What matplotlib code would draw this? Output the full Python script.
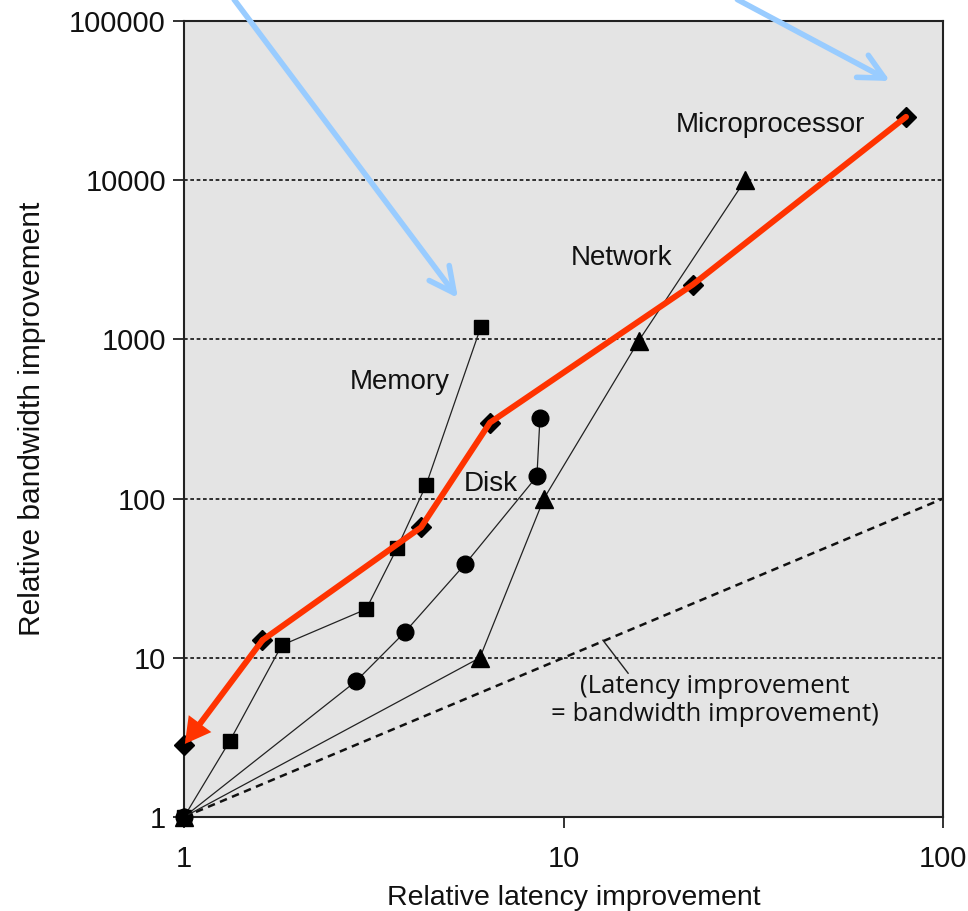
import matplotlib
matplotlib.use("Agg")
import matplotlib.pyplot as plt
from matplotlib.patches import FancyArrowPatch

# Relative improvement milestones (latency, bandwidth) for each technology
micro_latency = [1.0, 1.61, 4.21, 6.40, 21.9, 79.9]
micro_bandwidth = [2.83, 12.9, 65.9, 300, 2207, 25000]

memory_latency = [1.0, 1.32, 1.81, 3.02, 3.64, 4.34, 6.06]
memory_bandwidth = [1.0, 3.0, 12.0, 20.2, 48.7, 121, 1203]

disk_latency = [1.0, 2.84, 3.82, 5.5, 8.51, 8.67]
disk_bandwidth = [1.0, 7.13, 14.5, 38.7, 138, 323]

network_latency = [1.0, 6.02, 8.88, 15.8, 30.1]
network_bandwidth = [1.0, 10.0, 100, 983, 10000]

x_ticks = [1, 10, 100]
x_tick_labels = ["1", "10", "100"]
y_ticks = [1, 10, 100, 1000, 10000, 100000]
y_tick_labels = ["1", "10", "100", "1000", "10000", "100000"]
grid_levels = [10, 100, 1000, 10000]

W, H = 968, 911
fig = plt.figure(figsize=(W / 100, H / 100), dpi=100)
left, right, top, bottom = 184, 943, 21, 817
ax = fig.add_axes([left / W, (H - bottom) / H, (right - left) / W, (bottom - top) / H])

ax.set_xscale("log")
ax.set_yscale("log")
ax.set_xlim(1, 100)
ax.set_ylim(1, 100000)
ax.set_facecolor("#e4e4e4")

font = "Liberation Sans"

for s in ax.spines.values():
    s.set_linewidth(1.5)
    s.set_color("#222222")

ax.set_xticks(x_ticks)
ax.set_xticklabels(x_tick_labels)
ax.set_yticks(y_ticks)
ax.set_yticklabels(y_tick_labels)
ax.minorticks_off()
ax.tick_params(direction="out", length=8, width=1.3, color="#222222",
               labelsize=21, pad=5, labelcolor="#111111")
for lab in ax.get_xticklabels() + ax.get_yticklabels():
    lab.set_fontfamily(font)
ax.tick_params(axis="x", pad=12)

# Horizontal dotted reference lines
for g in grid_levels:
    ax.axhline(g, color="#111111", lw=1.2, dashes=(2.2, 1.6), zorder=1)

# Equal-improvement diagonal
ax.plot([1, 100], [1, 100], color="#111111", lw=1.8, dashes=(3.0, 2.2),
        zorder=2, clip_on=False)

line_kw = dict(color="#222222", lw=0.9, mec="black", mfc="black",
               clip_on=False, zorder=3)
ax.plot(memory_latency, memory_bandwidth, marker="s", ms=10, **line_kw)
ax.plot(disk_latency, disk_bandwidth, marker="o", ms=12, **line_kw)
ax.plot(network_latency, network_bandwidth, marker="^", ms=13, **line_kw)
ax.plot(micro_latency, micro_bandwidth, marker="D", ms=10, **line_kw)

# Highlighted microprocessor trend
red = "#ff3300"
ax.plot(micro_latency[1:], micro_bandwidth[1:], color=red, lw=4.3,
        solid_joinstyle="round", solid_capstyle="round", zorder=5)
arrow = FancyArrowPatch((micro_latency[1], micro_bandwidth[1]),
                        (micro_latency[0], micro_bandwidth[0]),
                        arrowstyle="-|>,head_length=0.9,head_width=0.5",
                        mutation_scale=13, color=red, lw=4.3,
                        shrinkA=0, shrinkB=1, zorder=5, clip_on=False,
                        joinstyle="miter", capstyle="round")
ax.add_patch(arrow)

label_kw = dict(fontsize=20, family=font, color="#111111",
                ha="center", va="center", zorder=6)
ax.text(35.2, 22200, "Microprocessor", **label_kw)
ax.text(14.2, 3245, "Network", **label_kw)
ax.text(3.71, 540, "Memory", **label_kw)
ax.text(6.44, 124, "Disk", **label_kw)

ax.text(25.1, 5.4, "(Latency improvement\n= bandwidth improvement)",
        fontsize=18.5, family="Open Sans", color="#111111",
        ha="center", va="center", linespacing=1.15, zorder=6)
ax.plot([12.7, 14.8], [12.9, 8.0], color="#222222", lw=1.0, zorder=6)

ax.set_xlabel("Relative latency improvement", fontsize=20.5, family=font,
              labelpad=9, color="#111111")
ax.xaxis.label.set_x(0.513)
ax.set_ylabel("Relative bandwidth improvement", fontsize=21.5, family=font,
              labelpad=17, color="#111111")

# Light-blue pointer arrows entering from above the plot
blue = "#99ccff"
for tail, tip in [((0.066, 1.027), (5.27, 1820)),
                  ((0.729, 1.027), (72.5, 42000))]:
    ax.annotate("", xy=tip, xycoords="data", xytext=tail,
                textcoords="axes fraction", annotation_clip=False,
                arrowprops=dict(arrowstyle="->,head_length=0.9,head_width=0.45",
                                mutation_scale=20, color=blue, lw=4.0,
                                shrinkA=0, shrinkB=0, capstyle="round"),
                zorder=7)

fig.savefig("out.png", dpi=100)
